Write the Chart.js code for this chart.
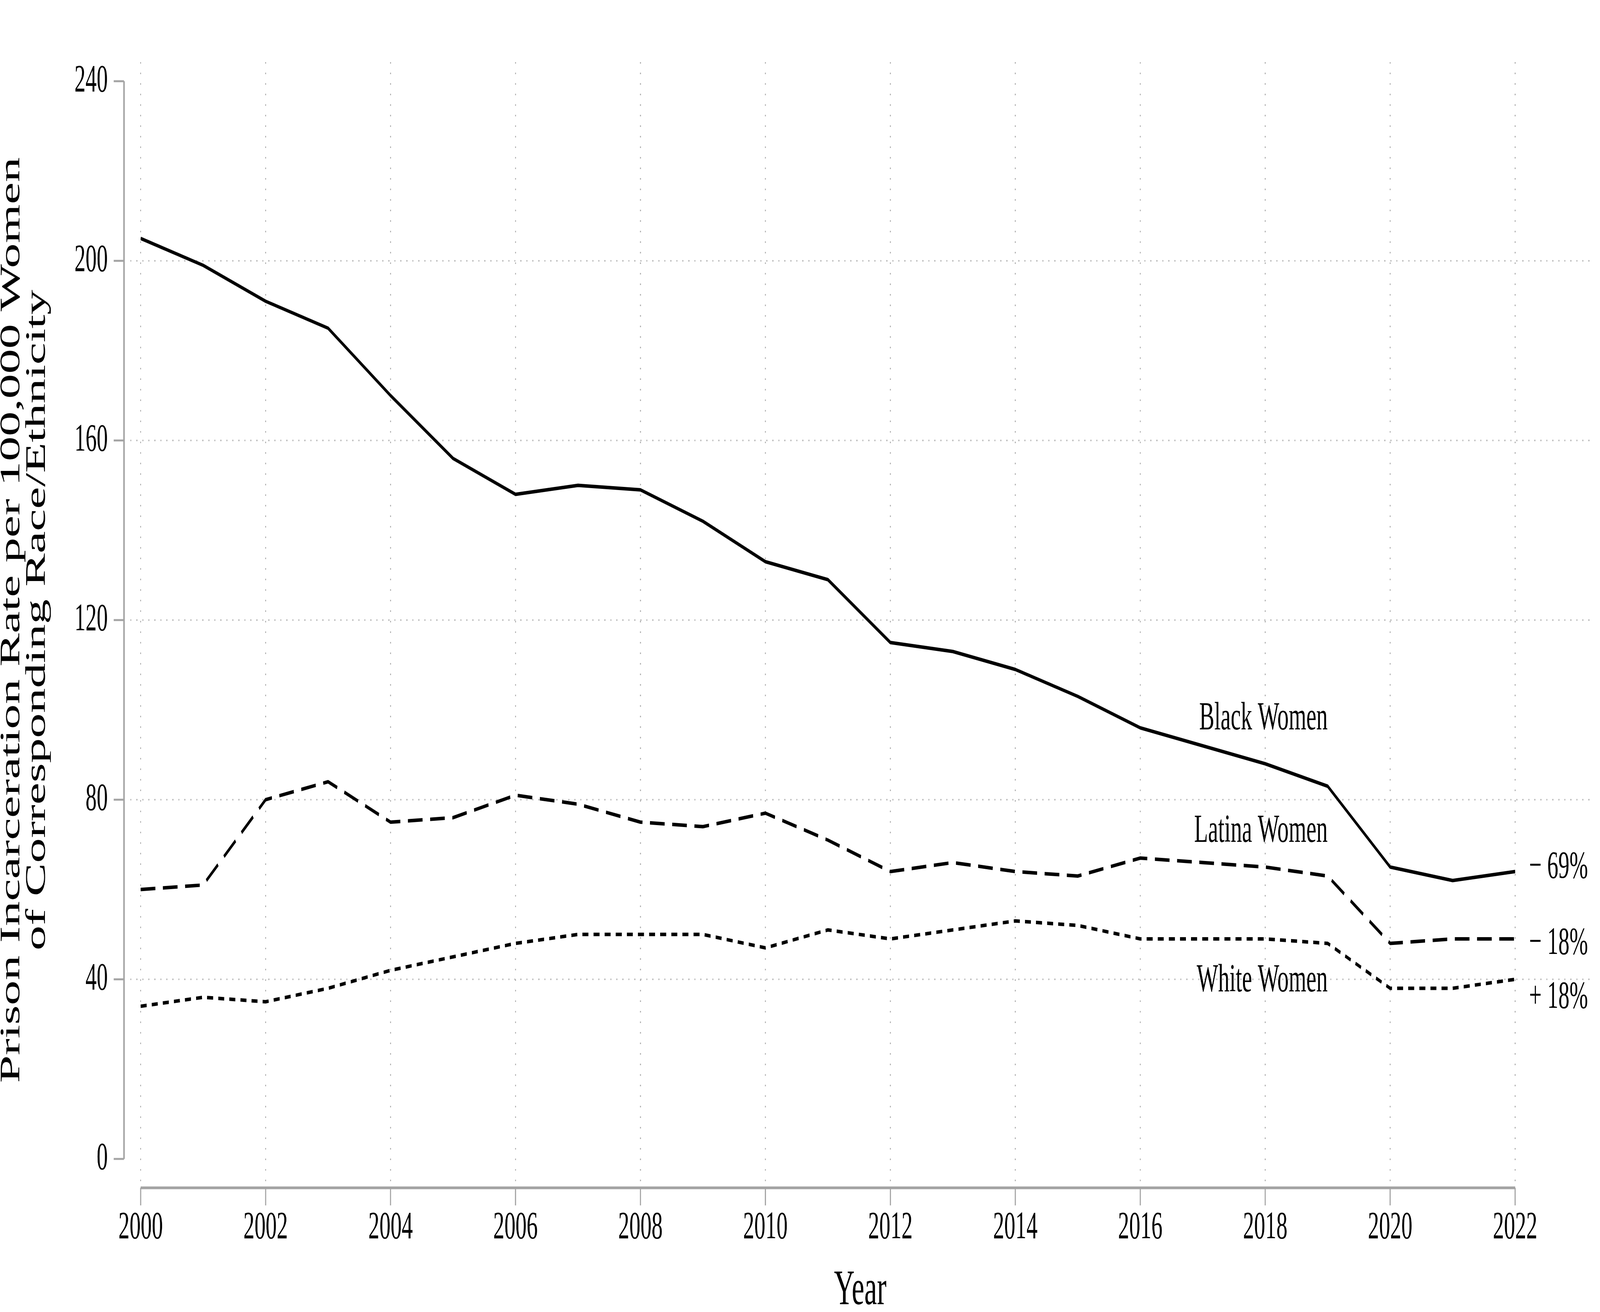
<!DOCTYPE html>
<html>
<head>
<meta charset="utf-8">
<script src="https://cdn.jsdelivr.net/npm/chart.js@4.4.1/dist/chart.umd.min.js"></script>
<style>
  html, body { margin: 0; padding: 0; background: #fff; overflow: hidden; }
  /* drawn at 7200 x 3360, shown over the whole window */
  #chart { display: block; width: 100vw; height: 100vh; }
</style>
</head>
<body>
<canvas id="chart" width="7200" height="3360" style="width:100vw;height:100vh"></canvas>
<script>
// Data
const years = [2000, 2001, 2002, 2003, 2004, 2005, 2006, 2007, 2008, 2009, 2010, 2011,
               2012, 2013, 2014, 2015, 2016, 2017, 2018, 2019, 2020, 2021, 2022];
const blackWomen  = [205, 199, 191, 185, 170, 156, 148, 150, 149, 142, 133, 129,
                     115, 113, 109, 103, 96, 92, 88, 83, 65, 62, 64];
const latinaWomen = [60, 61, 80, 84, 75, 76, 81, 79, 75, 74, 77, 71,
                     64, 66, 64, 63, 67, 66, 65, 63, 48, 49, 49];
const whiteWomen  = [34, 36, 35, 38, 42, 45, 48, 50, 50, 50, 47, 51,
                     49, 51, 53, 52, 49, 49, 49, 48, 38, 38, 40];

const seriesNames = ['Black Women', 'Latina Women', 'White Women'];
const changeLabels = ['\u2212 69%', '\u2212 18%', '+ 18%'];

// where the text annotations sit, in data units
const nameLabelYear = 2019;
const nameLabelValues = [98, 72.9, 39.6];
const changeLabelValues = [64.9, 47.9, 35.9];

const xTickValues = [2000, 2002, 2004, 2006, 2008, 2010, 2012, 2014, 2016, 2018, 2020, 2022];
const yTickValues = [0, 40, 80, 120, 160, 200, 240];
const yGridValues = [40, 80, 120, 160, 200];

const yTitle = ['Prison Incarceration Rate per 100,000 Women', 'of Corresponding Race/Ethnicity'];
const xTitle = 'Year';

const FONT = '"Liberation Serif", "Times New Roman", serif';
const AXIS_GRAY = '#a3a3a3';
const GRID_GRAY = '#a9a9a9';

// Stata-like detached axes and dotted grid, drawn from the scales
const axesPlugin = {
    id: 'detachedAxes',
    beforeDatasetsDraw(chart) {
        const ctx = chart.ctx;
        const a = chart.chartArea;
        const x = chart.scales.x;
        const y = chart.scales.y;
        ctx.save();

        // dotted grid
        ctx.strokeStyle = GRID_GRAY;
        ctx.lineWidth = 4;
        ctx.lineCap = 'butt';
        ctx.setLineDash([4, 23]);
        xTickValues.forEach(v => {
            const xp = x.getPixelForValue(v);
            ctx.beginPath();
            ctx.moveTo(xp, a.top - 49);
            ctx.lineTo(xp, a.bottom + 70);
            ctx.stroke();
        });
        yGridValues.forEach(v => {
            const yp = y.getPixelForValue(v);
            ctx.beginPath();
            ctx.moveTo(a.left - 46, yp);
            ctx.lineTo(a.right + 337, yp);
            ctx.stroke();
        });
        ctx.setLineDash([]);

        // y axis line + ticks
        ctx.strokeStyle = AXIS_GRAY;
        const yAxisX = a.left - 75;
        ctx.lineWidth = 7;
        ctx.beginPath();
        ctx.moveTo(yAxisX, y.getPixelForValue(240));
        ctx.lineTo(yAxisX, y.getPixelForValue(0));
        ctx.stroke();
        ctx.lineWidth = 5;
        yTickValues.forEach(v => {
            const yp = y.getPixelForValue(v);
            ctx.beginPath();
            ctx.moveTo(yAxisX - 46, yp);
            ctx.lineTo(yAxisX, yp);
            ctx.stroke();
        });

        // x axis line + ticks
        const xAxisY = a.bottom + 74;
        ctx.lineWidth = 7;
        ctx.beginPath();
        ctx.moveTo(x.getPixelForValue(2000), xAxisY);
        ctx.lineTo(x.getPixelForValue(2022), xAxisY);
        ctx.stroke();
        ctx.lineWidth = 5;
        xTickValues.forEach(v => {
            const xp = x.getPixelForValue(v);
            ctx.beginPath();
            ctx.moveTo(xp, xAxisY);
            ctx.lineTo(xp, xAxisY + 45);
            ctx.stroke();
        });

        ctx.restore();
    },
    afterDatasetsDraw(chart) {
        const ctx = chart.ctx;
        const a = chart.chartArea;
        const x = chart.scales.x;
        const y = chart.scales.y;
        ctx.save();
        ctx.fillStyle = '#000';

        // series names, right aligned at 2019
        ctx.font = '102px ' + FONT;
        ctx.textBaseline = 'middle';
        ctx.textAlign = 'right';
        seriesNames.forEach((name, i) => {
            ctx.fillText(name, x.getPixelForValue(nameLabelYear), y.getPixelForValue(nameLabelValues[i]));
        });

        // change since 2000, right of the last point
        ctx.font = '100px ' + FONT;
        ctx.textAlign = 'left';
        changeLabels.forEach((txt, i) => {
            ctx.fillText(txt, x.getPixelForValue(2022) + 63, y.getPixelForValue(changeLabelValues[i]));
        });

        // x axis title, centred on the plot region
        ctx.font = '128px ' + FONT;
        ctx.textAlign = 'center';
        ctx.textBaseline = 'alphabetic';
        ctx.fillText(xTitle, ((a.left - 46) + (a.right + 337)) / 2, a.bottom + 372);

        ctx.restore();
    }
};

function toPoints(values) {
    return values.map((v, i) => ({ x: years[i], y: v }));
}

function drawChart() {
    Chart.defaults.font.family = FONT;
    Chart.defaults.color = '#000';

    const canvas = document.getElementById('chart');
    new Chart(canvas.getContext('2d'), {
        type: 'line',
        data: {
            datasets: [
                { label: seriesNames[0], data: toPoints(blackWomen), borderDash: [] },
                { label: seriesNames[1], data: toPoints(latinaWomen), borderDash: [66, 34] },
                { label: seriesNames[2], data: toPoints(whiteWomen), borderDash: [27, 23] }
            ].map(ds => Object.assign(ds, {
                borderColor: '#000',
                borderWidth: 9,
                pointRadius: 0,
                tension: 0,
                fill: false,
                borderCapStyle: 'butt',
                borderJoinStyle: 'round'
            }))
        },
        options: {
            responsive: false,
            devicePixelRatio: 1,
            animation: false,
            layout: { padding: { left: 0, top: 74, right: 382, bottom: 0 } },
            plugins: {
                legend: { display: false },
                tooltip: { enabled: false }
            },
            scales: {
                x: {
                    type: 'linear',
                    min: 2000,
                    max: 2022,
                    afterBuildTicks: s => { s.ticks = xTickValues.map(v => ({ value: v })); },
                    afterFit: s => { s.height = 392; },
                    grid: { display: false, drawTicks: false },
                    border: { display: false },
                    ticks: {
                        font: { size: 100 },
                        padding: 117,
                        maxRotation: 0,
                        autoSkip: false,
                        callback: v => String(v)
                    },
                    title: { display: false }
                },
                y: {
                    type: 'linear',
                    min: 0,
                    max: 240,
                    afterBuildTicks: s => { s.ticks = yTickValues.map(v => ({ value: v })); },
                    afterFit: s => { s.width = 633; },
                    grid: { display: false, drawTicks: false },
                    border: { display: false },
                    ticks: {
                        font: { size: 100 },
                        padding: 148,
                        callback: v => String(v)
                    },
                    title: {
                        display: true,
                        text: yTitle,
                        font: { size: 128, lineHeight: 0.9 },
                        padding: { top: -4, bottom: 0 }
                    }
                }
            }
        },
        plugins: [axesPlugin]
    });
}

if (document.fonts && document.fonts.load) {
    document.fonts.load('100px "Liberation Serif"').then(drawChart, drawChart);
} else {
    drawChart();
}
</script>
</body>
</html>
